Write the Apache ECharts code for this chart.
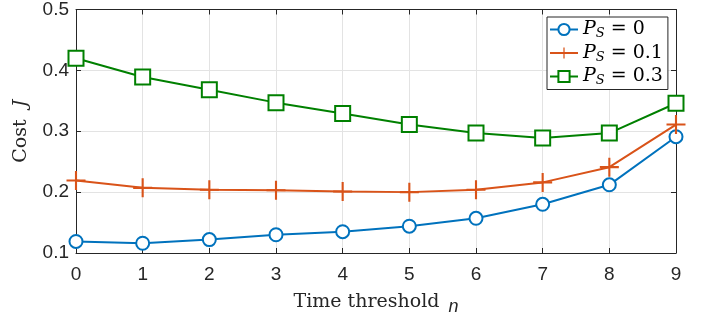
<!DOCTYPE html>
<html><head><meta charset="utf-8">
<script src="https://cdn.jsdelivr.net/npm/echarts@6/dist/echarts.min.js"></script>
<style>html,body{margin:0;padding:0;background:#fff}#c{width:702px;height:321px}</style>
</head><body><div id="c"></div>
<script>
const categories = [0, 1, 2, 3, 4, 5, 6, 7, 8, 9];
const ps0 = [0.119, 0.116, 0.122, 0.130, 0.135, 0.144, 0.157, 0.180, 0.212, 0.291];
const ps01 = [0.219, 0.207, 0.204, 0.203, 0.201, 0.200, 0.204, 0.216, 0.241, 0.311];
const ps03 = [0.420, 0.389, 0.368, 0.347, 0.329, 0.311, 0.297, 0.289, 0.297, 0.346];
const seriesNames = ['P_S = 0', 'P_S = 0.1', 'P_S = 0.3'];
const yTicks = [0.1, 0.2, 0.3, 0.4, 0.5];

const BLUE = '#0072BD', ORANGE = '#D95319', GREEN = '#008000';
const PLUS = 'path://M-1,-9 L1,-9 L1,9 L-1,9 Z M-9,-1 L9,-1 L9,1 L-9,1 Z';
const tickFont = {fontFamily: 'Liberation Sans, Arial, sans-serif', fontSize: 19, color: '#262626'};
const serif = 'DejaVu Serif, serif';

const chart = echarts.init(document.getElementById('c'), null, {renderer: 'canvas'});
function mk(name, data, color, symbol, size, hollow) {
  return {
    name, type: 'line', data: data.map((v, i) => [categories[i], v]),
    symbol, symbolSize: size, showSymbol: true,
    lineStyle: {color, width: 2},
    itemStyle: hollow ? {color: '#fff', borderColor: color, borderWidth: 2} : {color, borderColor: color, borderWidth: 0},
    emphasis: {disabled: true}, animation: false, z: 3
  };
}
const legendRich = {
  p: {fontFamily: serif, fontStyle: 'italic', fontSize: 19, color: '#000'},
  s: {fontFamily: serif, fontStyle: 'italic', fontSize: 13, color: '#000', verticalAlign: 'bottom', padding: [9, 0, 0, 0]},
  t: {fontFamily: serif, fontSize: 19, color: '#000'}
};
chart.setOption({
  animation: false,
  grid: {left: 76, right: 26, top: 6, bottom: 63, containLabel: false},
  legend: {
    left: 547, top: 17, orient: 'vertical', itemGap: 3, itemWidth: 28, itemHeight: 14,
    padding: [3, 5, 2, 2],
    borderColor: '#262626', borderWidth: 1, backgroundColor: '#fff',
    data: seriesNames,
    formatter: (n) => { const v = n.split(' = ')[1]; return '{p|P}{s|S}{t| = ' + v + '}'; },
    textStyle: {rich: legendRich}
  },
  xAxis: [{
    type: 'value', min: 0, max: 9, interval: 1,
    name: 'Time threshold {n|n}', nameLocation: 'middle', nameGap: 35,
    nameTextStyle: {fontFamily: serif, fontSize: 19, color: '#262626',
      rich: {n: {fontFamily: 'Liberation Sans, sans-serif', fontStyle: 'italic', fontSize: 18, color: '#262626', padding: [10, 0, 0, 3]}}},
    axisLine: {show: true, onZero: false, lineStyle: {color: '#262626', width: 1}},
    axisTick: {show: true, inside: true, length: 5, lineStyle: {color: '#262626'}},
    axisLabel: Object.assign({margin: 12}, tickFont),
    splitLine: {show: true, lineStyle: {color: '#e3e3e3', width: 1}}
  }, {
    type: 'value', min: 0, max: 9, interval: 1, position: 'top',
    axisLine: {show: true, onZero: false, lineStyle: {color: '#262626', width: 1}},
    axisTick: {show: true, inside: true, length: 5, lineStyle: {color: '#262626'}},
    axisLabel: {show: false}, splitLine: {show: false}
  }],
  yAxis: [{
    type: 'value', min: 0.1, max: 0.5, interval: 0.1,
    name: 'Cost  {j|J}', nameLocation: 'middle', nameGap: 45,
    nameTextStyle: {fontFamily: serif, fontSize: 19, color: '#262626',
      rich: {j: {fontFamily: serif, fontStyle: 'italic', fontSize: 19, color: '#262626'}}},
    axisLine: {show: true, onZero: false, lineStyle: {color: '#262626', width: 1}},
    axisTick: {show: true, inside: true, length: 5, lineStyle: {color: '#262626'}},
    axisLabel: Object.assign({margin: 7, formatter: (v) => yTicks.find(t => Math.abs(t - v) < 1e-9)?.toFixed(1) ?? ''}, tickFont),
    splitLine: {show: true, lineStyle: {color: '#e3e3e3', width: 1}}
  }, {
    type: 'value', min: 0.1, max: 0.5, interval: 0.1, position: 'right',
    axisLine: {show: true, onZero: false, lineStyle: {color: '#262626', width: 1}},
    axisTick: {show: true, inside: true, length: 5, lineStyle: {color: '#262626'}},
    axisLabel: {show: false}, splitLine: {show: false}
  }],
  series: [
    mk(seriesNames[0], ps0, BLUE, 'circle', 13, true),
    mk(seriesNames[1], ps01, ORANGE, PLUS, 19, false),
    mk(seriesNames[2], ps03, GREEN, 'rect', 15, true)
  ]
});
</script></body></html>
